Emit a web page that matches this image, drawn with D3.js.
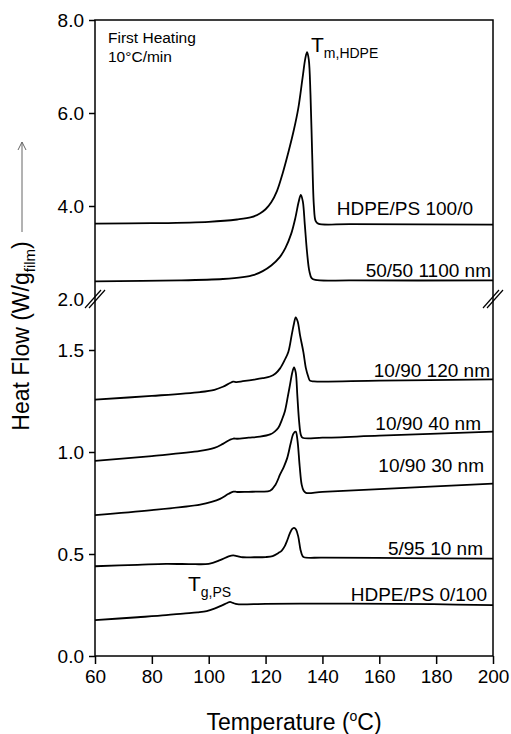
<!DOCTYPE html>
<html>
<head>
<meta charset="utf-8">
<script src="https://cdn.jsdelivr.net/npm/d3@7"></script>
<style>
	body { margin: 0; background: #fff; }
	svg text { font-family: 'Liberation Sans', Arial, sans-serif; fill: #000; }
</style>
</head>
<body>
<div id="chart"></div>
<script>

// tick values
var tempTicks = [60, 80, 100, 120, 140, 160, 180, 200];
var lowTicks = [0, 0.5, 1.0, 1.5];
var highTicks = [2, 4, 6, 8];

// DSC traces, [temperature, heat flow]
var hdpe100 = [[60,3.62],[80,3.63],[100,3.66],[110,3.71],[115,3.76],[118,3.84],[120,3.93],[122,4.08],[124,4.32],[126,4.7],[128,5.15],[130,5.65],[131.5,6.1],[133,6.75],[134,7.18],[134.6,7.31],[135.2,7.15],[135.8,6.4],[136.4,5.1],[137,4.0],[137.6,3.68],[138.5,3.62],[150,3.61],[200,3.6]];
var blend5050 = [[60,2.38],[90,2.4],[105,2.43],[112,2.47],[116,2.52],[119,2.6],[122,2.72],[125,2.9],[127,3.1],[129,3.4],[130.5,3.75],[131.6,4.08],[132.4,4.24],[133.1,4.1],[133.8,3.6],[134.6,3.0],[135.4,2.6],[136.2,2.45],[137.5,2.41],[150,2.4],[200,2.4]];
var film120 = [[60,1.257],[80,1.275],[97,1.294],[102,1.305],[105,1.32],[107.5,1.338],[108.6,1.345],[109.8,1.343],[112,1.347],[116,1.355],[119,1.362],[121.6,1.37],[123.5,1.385],[125.1,1.41],[126.7,1.45],[128,1.49],[129.2,1.574],[130,1.63],[130.6,1.66],[131.3,1.64],[132.1,1.574],[133.3,1.49],[134.2,1.41],[135,1.37],[135.6,1.35],[137,1.346],[160,1.35],[200,1.356]];
var film40 = [[60,0.956],[80,0.98],[97,1.005],[102,1.02],[105,1.04],[107.5,1.06],[108.7,1.066],[110,1.065],[114,1.07],[118,1.075],[121.6,1.086],[123.2,1.1],[124.5,1.119],[125.8,1.16],[126.8,1.2],[127.8,1.27],[128.6,1.33],[129.4,1.39],[130,1.415],[130.6,1.39],[131.2,1.27],[131.8,1.15],[132.4,1.085],[133,1.07],[140,1.07],[160,1.08],[200,1.1]];
var film30 = [[60,0.691],[80,0.715],[97,0.742],[101,0.755],[104,0.77],[107,0.795],[108.7,0.806],[110,0.804],[114,0.805],[118,0.806],[121.6,0.81],[123.5,0.84],[125.1,0.89],[126.5,0.93],[127.6,0.97],[128.8,1.04],[129.8,1.09],[130.6,1.1],[131.2,1.06],[132,0.93],[132.7,0.84],[133.4,0.81],[134.2,0.8],[140,0.805],[160,0.818],[200,0.845]];
var film10 = [[60,0.44],[75,0.447],[85,0.452],[95,0.45],[100,0.452],[104,0.47],[107,0.488],[108.6,0.493],[110,0.49],[112,0.484],[116,0.484],[120,0.485],[122.5,0.49],[124.5,0.505],[125.7,0.517],[126.8,0.54],[127.6,0.566],[128.5,0.6],[129.3,0.622],[130,0.628],[130.7,0.62],[131.5,0.585],[132.3,0.52],[133,0.49],[133.5,0.484],[140,0.482],[170,0.48],[200,0.477]];
var ps100 = [[60,0.176],[75,0.19],[85,0.2],[91,0.208],[96,0.214],[99.3,0.22],[102,0.232],[104.5,0.247],[106.5,0.26],[107.5,0.265],[108.5,0.26],[110,0.254],[112,0.253],[120,0.256],[132,0.257],[150,0.257],[179,0.254],[200,0.249]];

var curveNames = ['HDPE/PS 100/0', '50/50 1100 nm', '10/90 120 nm', '10/90 40 nm', '10/90 30 nm', '5/95 10 nm', 'HDPE/PS 0/100'];

/**
 * Chart geometry
 */
var width = 511, height = 734;
var plotLeft = 95, plotRight = 493, plotTop = 20, plotBottom = 656, breakY = 299;

var svg = d3.select('#chart').append('svg')
	.attr('width', width)
	.attr('height', height);

var x = d3.scaleLinear().domain([60, 200]).range([plotLeft, plotRight]);
var yLow = d3.scaleLinear().domain([0, 1.75]).range([plotBottom, breakY]);
var yHigh = d3.scaleLinear().domain([2, 8]).range([breakY, plotTop]);

var curves = [
	{data: hdpe100, y: yHigh, label: curveNames[0], lx: 473, ly: 215},
	{data: blend5050, y: yHigh, label: curveNames[1], lx: 491, ly: 277},
	{data: film120, y: yLow, label: curveNames[2], lx: 490, ly: 377},
	{data: film40, y: yLow, label: curveNames[3], lx: 481, ly: 430},
	{data: film30, y: yLow, label: curveNames[4], lx: 484, ly: 472},
	{data: film10, y: yLow, label: curveNames[5], lx: 483, ly: 555},
	{data: ps100, y: yLow, label: curveNames[6], lx: 487, ly: 601}
];

/**
 * Frame
 */
svg.append('rect')
	.attr('x', plotLeft).attr('y', plotTop)
	.attr('width', plotRight - plotLeft).attr('height', plotBottom - plotTop)
	.attr('fill', 'none').attr('stroke', '#000').attr('stroke-width', 1.5);

/**
 * Axes
 */
var xAxis = svg.append('g')
	.attr('transform', 'translate(0,' + plotBottom + ')')
	.call(d3.axisBottom(x).tickValues(tempTicks).tickSize(8).tickPadding(6).tickFormat(d3.format('d')));

var yLowAxis = svg.append('g')
	.attr('transform', 'translate(' + plotLeft + ',0)')
	.call(d3.axisLeft(yLow).tickValues(lowTicks).tickSize(6).tickPadding(5).tickFormat(d3.format('.1f')));

var yHighAxis = svg.append('g')
	.attr('transform', 'translate(' + plotLeft + ',0)')
	.call(d3.axisLeft(yHigh).tickValues(highTicks).tickSize(6).tickPadding(5).tickFormat(d3.format('.1f')));

// the break hides the 2.0 tick mark
yHighAxis.selectAll('.tick').filter(function(d) { return d == 2; }).select('line').remove();

[xAxis, yLowAxis, yHighAxis].forEach(function(a) {
	a.select('.domain').remove();
	a.selectAll('.tick line').attr('stroke', '#000').attr('stroke-width', 1.5);
	a.selectAll('.tick text').style('font-size', '19px');
});

/**
 * Axis break marks
 */
[plotLeft, plotRight].forEach(function(bx) {
	[-2, 2].forEach(function(off) {
		svg.append('line')
			.attr('x1', bx - 8 + off).attr('y1', breakY + 9)
			.attr('x2', bx + 8 + off).attr('y2', breakY - 9)
			.attr('stroke', '#000').attr('stroke-width', 1.2);
	});
});

/**
 * Traces
 */
curves.forEach(function(c) {
	var line = d3.line()
		.x(function(d) { return x(d[0]); })
		.y(function(d) { return c.y(d[1]); })
		.curve(d3.curveCatmullRom.alpha(0.5));

	svg.append('path')
		.datum(c.data)
		.attr('fill', 'none')
		.attr('stroke', '#000')
		.attr('stroke-width', 1.8)
		.attr('d', line);

	svg.append('text')
		.attr('x', c.lx).attr('y', c.ly)
		.attr('text-anchor', 'end')
		.style('font-size', '19px')
		.text(c.label);
});

/**
 * Annotations
 */
svg.append('text').attr('x', 108).attr('y', 43).style('font-size', '15.5px').text('First Heating');
svg.append('text').attr('x', 108).attr('y', 62).style('font-size', '15.5px').text('10\u00B0C/min');

var tm = svg.append('text').attr('x', 311).attr('y', 52).style('font-size', '21px');
tm.append('tspan').text('T');
tm.append('tspan').attr('dy', 6).style('font-size', '14px').text('m,HDPE');

var tg = svg.append('text').attr('x', 188).attr('y', 591).style('font-size', '21px');
tg.append('tspan').text('T');
tg.append('tspan').attr('dy', 6).style('font-size', '14px').text('g,PS');

/**
 * Axis titles
 */
var xt = svg.append('text')
	.attr('x', (plotLeft + plotRight) / 2).attr('y', 730)
	.attr('text-anchor', 'middle')
	.style('font-size', '23px');
xt.append('tspan').text('Temperature (');
xt.append('tspan').attr('dy', -9).style('font-size', '14px').text('o');
xt.append('tspan').attr('dy', 9).text('C)');

var yt = svg.append('text')
	.attr('transform', 'translate(29,336) rotate(-90)')
	.attr('text-anchor', 'middle')
	.style('font-size', '23px');
yt.append('tspan').text('Heat Flow (W/g');
yt.append('tspan').attr('dy', 6).style('font-size', '15px').text('film');
yt.append('tspan').attr('dy', -6).text(')');

// endothermic arrow
svg.append('line')
	.attr('x1', 22).attr('y1', 232).attr('x2', 22).attr('y2', 142)
	.attr('stroke', '#666').attr('stroke-width', 1);
svg.append('path')
	.attr('d', 'M18,150 L22,142 L26,150')
	.attr('fill', 'none').attr('stroke', '#666').attr('stroke-width', 1);

</script>
</body>
</html>
